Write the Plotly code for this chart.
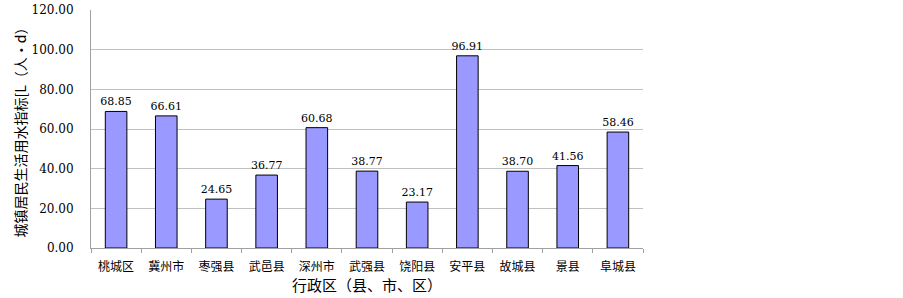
import plotly.graph_objects as go

categories = ["桃城区", "冀州市", "枣强县", "武邑县", "深州市", "武强县", "饶阳县", "安平县", "故城县", "景县", "阜城县"]
values = [68.85, 66.61, 24.65, 36.77, 60.68, 38.77, 23.17, 96.91, 38.70, 41.56, 58.46]
y_ticks = [0, 20, 40, 60, 80, 100, 120]
y_tick_labels = ["0.00", "20.00", "40.00", "60.00", "80.00", "100.00", "120.00"]

num_font = "DejaVu Serif, Liberation Serif, serif"
cjk_font = "Noto Sans CJK SC, sans-serif"

fig = go.Figure()
fig.add_trace(go.Bar(
    x=categories, y=values,
    width=0.43,
    marker=dict(color="#9999FF", line=dict(color="#000000", width=1)),
    text=[f"{v:.2f}" for v in values],
    textposition="outside",
    constraintext="none",
    textfont=dict(family=num_font, size=11, color="#000000"),
    cliponaxis=False,
))

fig.update_layout(
    width=903, height=298,
    margin=dict(l=91, r=260, t=10, b=50, autoexpand=False),
    paper_bgcolor="white", plot_bgcolor="white",
    showlegend=False,
)
fig.update_xaxes(
    type="category",
    automargin=False,
    tickfont=dict(family=cjk_font, size=12, color="#000000"),
    showline=True, linecolor="#a0a0a0", linewidth=1,
    ticks="outside", ticklen=4, tickcolor="#a0a0a0",
    tickson="boundaries",
    ticklabelstandoff=8,
    showgrid=False,
    title=dict(text="行政区（县、市、区）", font=dict(family=cjk_font, size=15, color="#000000"), standoff=1),
)
fig.update_yaxes(
    range=[0, 120],
    automargin=False,
    tickvals=y_ticks, ticktext=y_tick_labels,
    tickfont=dict(family=num_font, size=12, color="#000000"),
    showgrid=True, gridcolor="#c0c0c0", gridwidth=1,
    showline=True, linecolor="#a0a0a0", linewidth=1,
    zeroline=False,
    ticks="", ticklabelstandoff=14,
    title=dict(text="城镇居民生活用水指标[L（人·d）", font=dict(family=cjk_font, size=14, color="#000000"), standoff=1),
)

fig.write_html(
    "out.html",
    config={"displayModeBar": False},
    post_script="document.body.style.margin='0';document.body.style.overflow='hidden';",
)
